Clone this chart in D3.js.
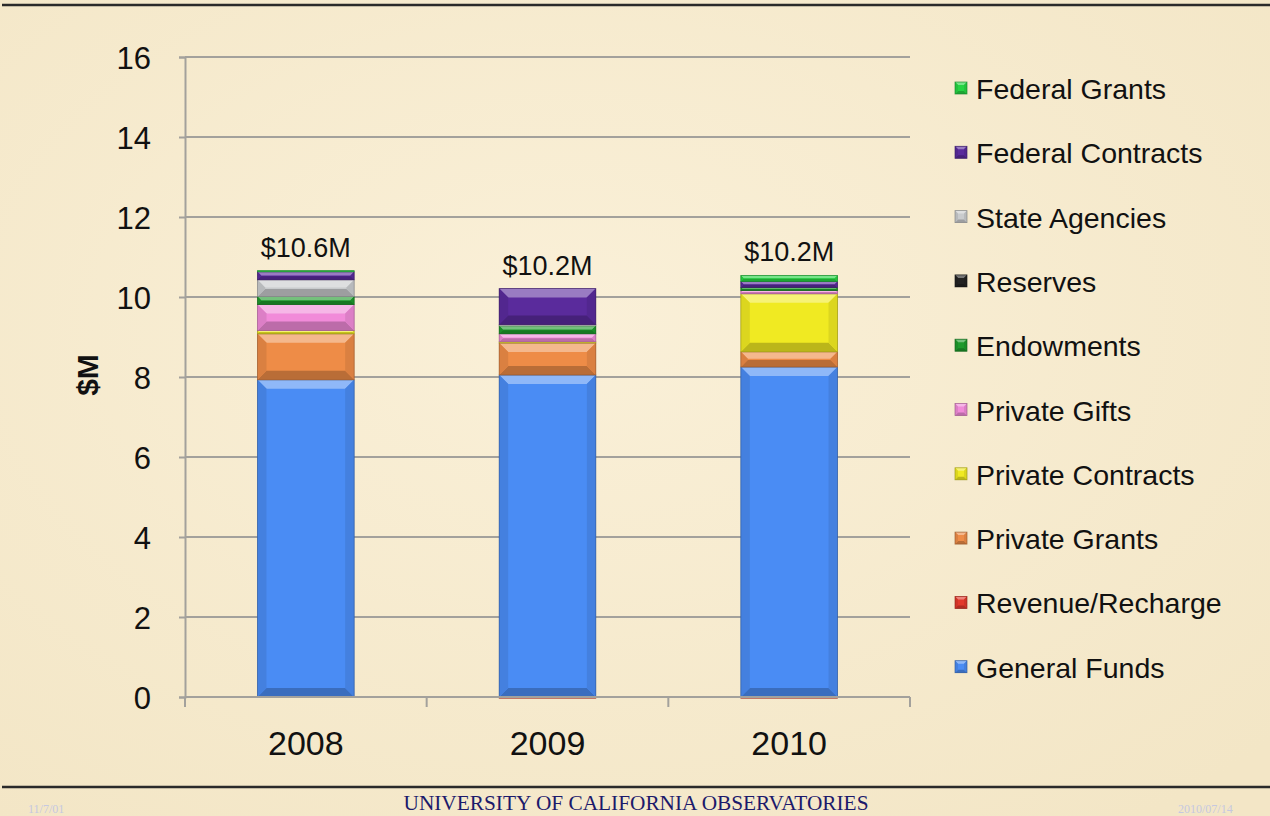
<!DOCTYPE html>
<html><head><meta charset="utf-8">
<script src="https://cdn.jsdelivr.net/npm/d3@7"></script>
<style>html,body{margin:0;padding:0;background:#f6ebcf;}svg{display:block;}</style>
</head><body>
<svg id="c" width="1270" height="816"></svg>
<script>
const years = ["2008", "2009", "2010"];
const totalLabels = ["$10.6M", "$10.2M", "$10.2M"];
const seriesNames = ["General Funds", "Revenue/Recharge", "Private Grants", "Private Contracts", "Private Gifts", "Endowments", "Reserves", "State Agencies", "Federal Contracts", "Federal Grants"];
const generalFunds      = [7.93, 8.05, 8.25];
const revenueRecharge   = [0, -0.03, -0.03];
const privateGrants     = [1.15, 0.80, 0.38];
const privateContracts  = [0.08, 0.03, 1.45];
const privateGifts      = [0.65, 0.20, 0.08];
const endowments        = [0.20, 0.20, 0.08];
const reserves          = [0, 0, 0];
const stateAgencies     = [0.42, 0.03, 0];
const federalContracts  = [0.20, 0.90, 0.15];
const federalGrants     = [0.03, 0, 0.15];
const yTicks = [0, 2, 4, 6, 8, 10, 12, 14, 16];
const colors = ["#4a8cf4", "#e2392b", "#ee8c47", "#f0ea22", "#f18bd9", "#1e9a2c", "#222222", "#c9cbcd", "#5a2b9c", "#26d443"];

const seriesValues = [generalFunds, revenueRecharge, privateGrants, privateContracts, privateGifts, endowments, reserves, stateAgencies, federalContracts, federalGrants];
const table = years.map((y, i) => {
  const row = {year: y};
  seriesNames.forEach((s, k) => row[s] = seriesValues[k][i]);
  return row;
});

const FONT = "Liberation Sans, Arial, Helvetica, sans-serif";
const svg = d3.select("#c");
const defs = svg.append("defs");

const bg = defs.append("radialGradient").attr("id", "bg").attr("cx", "45%").attr("cy", "40%").attr("r", "75%");
bg.append("stop").attr("offset", "0%").attr("stop-color", "#faf0d8");
bg.append("stop").attr("offset", "100%").attr("stop-color", "#f3e6c6");
svg.append("rect").attr("width", 1270).attr("height", 816).attr("fill", "url(#bg)");

svg.append("line").attr("x1", 2).attr("x2", 1270).attr("y1", 5).attr("y2", 5).attr("stroke", "#2a2a2a").attr("stroke-width", 2.5);
svg.append("line").attr("x1", 2).attr("x2", 1270).attr("y1", 787).attr("y2", 787).attr("stroke", "#2a2a2a").attr("stroke-width", 2.5);

const margin = {left: 185, right: 910, top: 57, bottom: 697};
const x = d3.scaleBand().domain(years).range([margin.left, margin.right]).paddingInner(0.6).paddingOuter(0.3);
const xb = d3.scaleBand().domain(years).range([margin.left, margin.right]);
const y = d3.scaleLinear().domain([0, 16]).range([margin.bottom, margin.top]);

svg.append("g").selectAll("line").data(yTicks.filter(t => t > 0)).join("line")
  .attr("x1", margin.left).attr("x2", margin.right)
  .attr("y1", d => y(d)).attr("y2", d => y(d))
  .attr("stroke", "#a3a19c").attr("stroke-width", 2);

const yAxis = svg.append("g").attr("transform", `translate(${margin.left},0)`)
  .call(d3.axisLeft(y).tickValues(yTicks).tickSize(6).tickPadding(28).tickFormat(d3.format("d")));
yAxis.select(".domain").attr("stroke", "#a3a19c").attr("stroke-width", 2);
yAxis.selectAll(".tick line").attr("stroke", "#a3a19c").attr("stroke-width", 2);
yAxis.selectAll("text").attr("font-family", FONT).attr("font-size", 31).attr("fill", "#111").attr("dy", "0.36em");

function bevel(x0, x1, yTop, yBot, color, g) {
  const h = yBot - yTop, w = x1 - x0;
  const b = Math.max(0.5, Math.min(9, h / 2.2, w / 4));
  const base = d3.color(color);
  const light = d3.interpolateRgb(color, "#ffffff")(0.38);
  const dark = base.darker(0.7);
  const side = base.darker(0.25);
  g.append("rect").attr("x", x0).attr("y", yTop).attr("width", w).attr("height", h).attr("fill", color);
  if (h > 2) {
    g.append("path").attr("d", `M${x0},${yTop}L${x1},${yTop}L${x1 - b},${yTop + b}L${x0 + b},${yTop + b}Z`).attr("fill", light);
    g.append("path").attr("d", `M${x0},${yBot}L${x1},${yBot}L${x1 - b},${yBot - b}L${x0 + b},${yBot - b}Z`).attr("fill", dark);
    g.append("path").attr("d", `M${x0},${yTop}L${x0 + b},${yTop + b}L${x0 + b},${yBot - b}L${x0},${yBot}Z`).attr("fill", side);
    g.append("path").attr("d", `M${x1},${yTop}L${x1 - b},${yTop + b}L${x1 - b},${yBot - b}L${x1},${yBot}Z`).attr("fill", side);
  }
  g.append("rect").attr("x", x0).attr("y", yTop).attr("width", w).attr("height", h)
    .attr("fill", "none").attr("stroke", base.darker(1.3)).attr("stroke-width", 0.8).attr("stroke-opacity", 0.8);
}

const stack = d3.stack().keys(seriesNames).offset(d3.stackOffsetDiverging);
const stacked = stack(table);
const barLayer = svg.append("g");
stacked.forEach((ser, i) => {
  ser.forEach(p => {
    if (p[1] - p[0] === 0) return;
    const x0 = x(p.data.year), x1 = x0 + x.bandwidth();
    const yTop = y(Math.max(p[0], p[1])), yBot = y(Math.min(p[0], p[1]));
    bevel(x0, x1, yTop, yBot, colors[i], barLayer.append("g"));
  });
});

const xAxisG = svg.append("g").attr("transform", `translate(0,${margin.bottom})`);
xAxisG.append("line").attr("x1", margin.left).attr("x2", margin.right).attr("stroke", "#a3a19c").attr("stroke-width", 2);
const xTickPos = years.map(yy => xb(yy)).concat([margin.right]);
xAxisG.selectAll("line.t").data(xTickPos).join("line").attr("class", "t")
  .attr("x1", d => d).attr("x2", d => d).attr("y1", 0).attr("y2", 10)
  .attr("stroke", "#a3a19c").attr("stroke-width", 2);
xAxisG.selectAll("text").data(years).join("text")
  .attr("x", d => x(d) + x.bandwidth() / 2).attr("y", 58)
  .attr("text-anchor", "middle").attr("font-family", FONT)
  .attr("font-size", 34).attr("fill", "#111").text(d => d);

const tops = table.map(r => seriesNames.reduce((a, s) => a + Math.max(0, r[s]), 0));
svg.append("g").selectAll("text").data(years).join("text")
  .attr("x", d => x(d) + x.bandwidth() / 2)
  .attr("y", (d, i) => y(tops[i]) - 14)
  .attr("text-anchor", "middle").attr("font-family", FONT)
  .attr("font-size", 27).attr("fill", "#111").text((d, i) => totalLabels[i]);

svg.append("text").attr("transform", "translate(98,375) rotate(-90)")
  .attr("text-anchor", "middle").attr("font-family", FONT).attr("font-weight", "bold")
  .attr("font-size", 30).attr("fill", "#111").text("$M");

const legendOrder = seriesNames.map((s, i) => ({s, i})).reverse();
const leg = svg.append("g").selectAll("g").data(legendOrder).join("g")
  .attr("transform", (d, k) => `translate(955,${90 + k * 64.3})`);
leg.each(function(d) {
  bevel(0, 12, -8, 4, colors[d.i], d3.select(this));
});
leg.append("text").attr("x", 21).attr("y", 9).attr("font-family", FONT)
  .attr("font-size", 28.5).attr("fill", "#111").text(d => d.s);

svg.append("text").attr("x", 636).attr("y", 810).attr("text-anchor", "middle")
  .attr("font-family", "Liberation Serif, Times New Roman, serif").attr("font-size", 21)
  .attr("fill", "#1c1a6b").attr("textLength", 465).attr("lengthAdjust", "spacingAndGlyphs")
  .text("UNIVERSITY OF CALIFORNIA OBSERVATORIES");
svg.append("text").attr("x", 28).attr("y", 813).attr("font-family", "Liberation Serif, serif").attr("font-size", 12)
  .attr("fill", "#c5c8e0").text("11/7/01");
svg.append("text").attr("x", 1178).attr("y", 813).attr("font-family", "Liberation Serif, serif").attr("font-size", 12)
  .attr("fill", "#c5c8e0").text("2010/07/14");
</script>
</body></html>
